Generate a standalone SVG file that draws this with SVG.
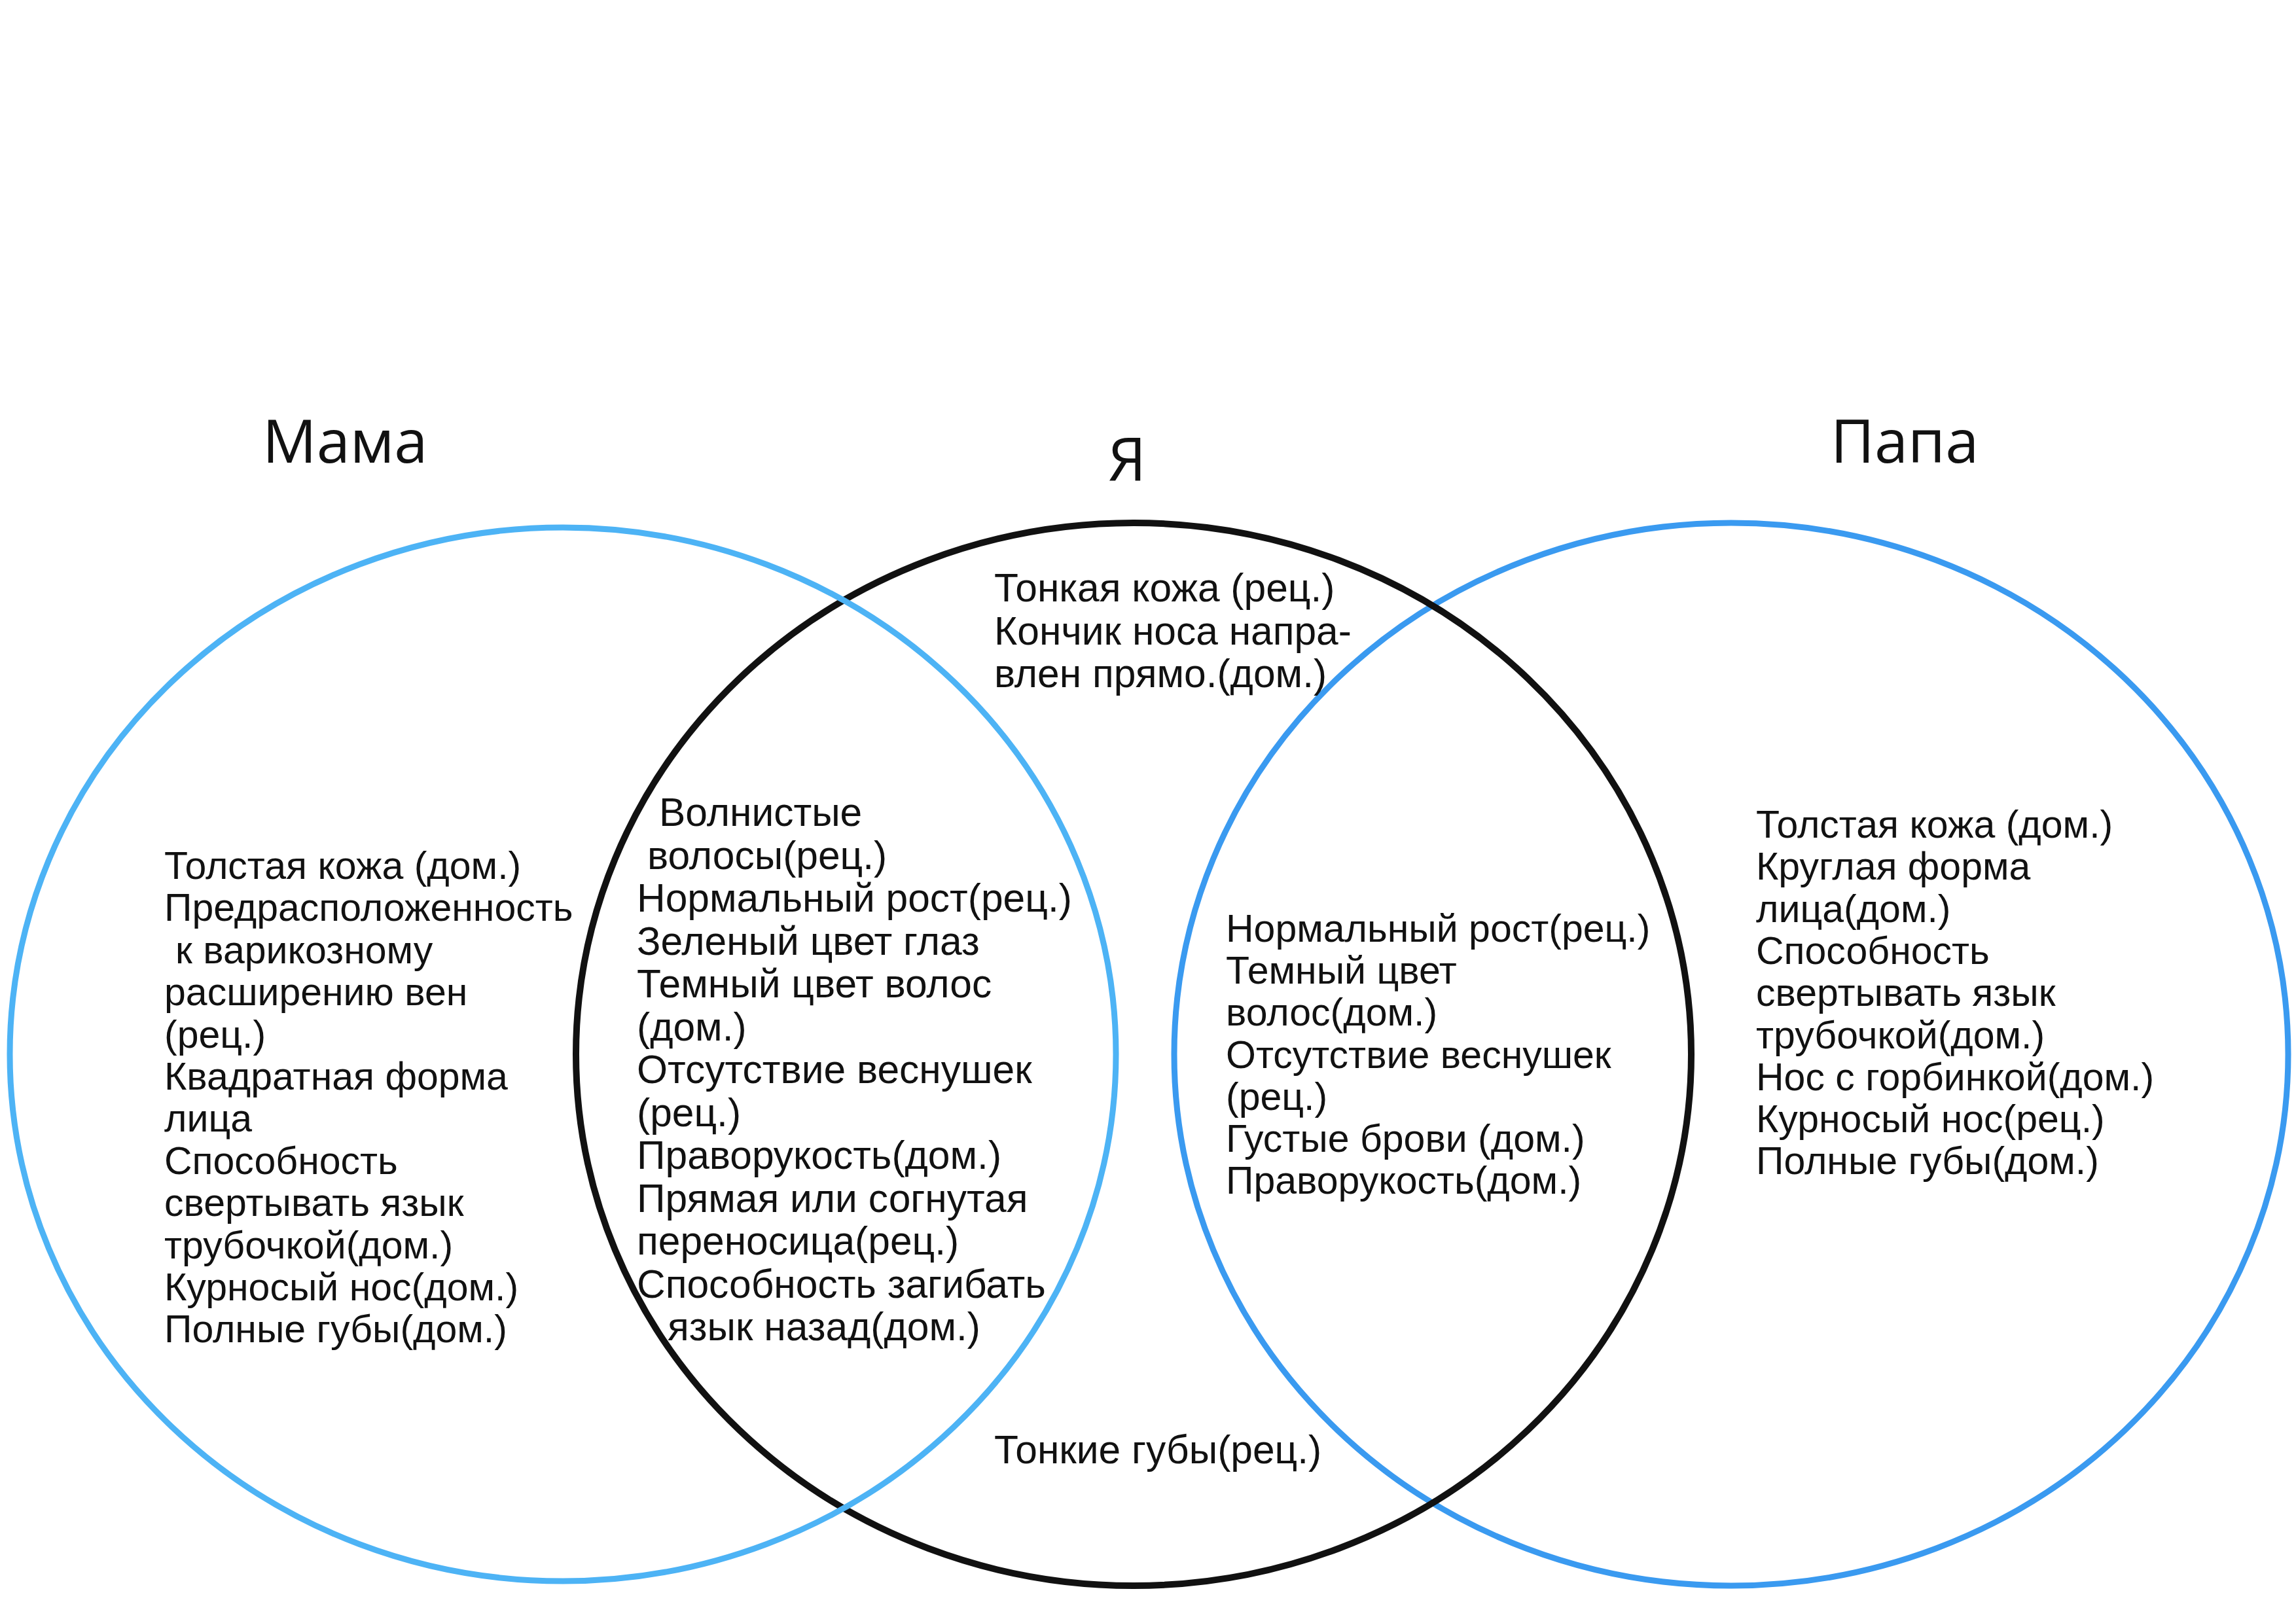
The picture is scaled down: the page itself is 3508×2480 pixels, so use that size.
<svg xmlns="http://www.w3.org/2000/svg" width="3508" height="2480" viewBox="0 0 3508 2480">
<style>
.title{font-family:"Open Sans","Noto Sans",sans-serif;font-size:92px;fill:#111;}
.t{font-family:"Liberation Sans",Arial,sans-serif;font-size:59px;fill:#111;}
.t2{font-family:"Liberation Sans",Arial,sans-serif;font-size:60.5px;fill:#111;}
.ring{fill:none;}
</style>
<rect width="3508" height="2480" fill="#fff"/>
<g id="papa">
<ellipse class="ring" cx="2645" cy="1611" rx="851" ry="812" stroke="#3a9af0" stroke-width="9"/>
<text class="title" x="2797" y="707">Папа</text>
<text class="t" x="2683" y="1280">Толстая кожа (дом.)<tspan x="2683" dy="64.3">Круглая форма</tspan><tspan x="2683" dy="64.3">лица(дом.)</tspan><tspan x="2683" dy="64.3">Способность</tspan><tspan x="2683" dy="64.3">свертывать язык</tspan><tspan x="2683" dy="64.3">трубочкой(дом.)</tspan><tspan x="2683" dy="64.3">Нос с горбинкой(дом.)</tspan><tspan x="2683" dy="64.3">Курносый нос(рец.)</tspan><tspan x="2683" dy="64.3">Полные губы(дом.)</tspan></text>
</g>
<g id="ya">
<ellipse class="ring" cx="1732" cy="1611" rx="852" ry="812" stroke="#111" stroke-width="10"/>
<text class="title" x="1693" y="734">Я</text>
<text class="t2" x="1519" y="919">Тонкая кожа (рец.)<tspan x="1519" dy="65.5">Кончик носа напра-</tspan><tspan x="1519" dy="65.5">влен прямо.(дом.)</tspan></text>
<text class="t2" x="1519" y="2236">Тонкие губы(рец.)</text>
</g>
<g id="mama">
<ellipse class="ring" cx="860" cy="1611" rx="845" ry="805" stroke="#4db3f5" stroke-width="9"/>
<text class="title" x="401" y="707">Мама</text>
<text class="t" x="251" y="1343">Толстая кожа (дом.)<tspan x="251" dy="64.4">Предрасположенность</tspan><tspan x="268" dy="64.4">к варикозному</tspan><tspan x="251" dy="64.4">расширению вен</tspan><tspan x="251" dy="64.4">(рец.)</tspan><tspan x="251" dy="64.4">Квадратная форма</tspan><tspan x="251" dy="64.4">лица</tspan><tspan x="251" dy="64.4">Способность</tspan><tspan x="251" dy="64.4">свертывать язык</tspan><tspan x="251" dy="64.4">трубочкой(дом.)</tspan><tspan x="251" dy="64.4">Курносый нос(дом.)</tspan><tspan x="251" dy="64.4">Полные губы(дом.)</tspan></text>
</g>
<g id="mama-ya">
<text class="t2" x="1007" y="1262">Волнистые<tspan x="989" dy="65.5">волосы(рец.)</tspan><tspan x="973" dy="65.5">Нормальный рост(рец.)</tspan><tspan x="973" dy="65.5">Зеленый цвет глаз</tspan><tspan x="973" dy="65.5">Темный цвет волос</tspan><tspan x="973" dy="65.5">(дом.)</tspan><tspan x="973" dy="65.5">Отсутствие веснушек</tspan><tspan x="973" dy="65.5">(рец.)</tspan><tspan x="973" dy="65.5">Праворукость(дом.)</tspan><tspan x="973" dy="65.5">Прямая или согнутая</tspan><tspan x="973" dy="65.5">переносица(рец.)</tspan><tspan x="973" dy="65.5">Способность загибать</tspan><tspan x="1020" dy="65.5">язык назад(дом.)</tspan></text>
</g>
<g id="ya-papa">
<text class="t" x="1873" y="1439">Нормальный рост(рец.)<tspan x="1873" dy="64.2">Темный цвет</tspan><tspan x="1873" dy="64.2">волос(дом.)</tspan><tspan x="1873" dy="64.2">Отсутствие веснушек</tspan><tspan x="1873" dy="64.2">(рец.)</tspan><tspan x="1873" dy="64.2">Густые брови (дом.)</tspan><tspan x="1873" dy="64.2">Праворукость(дом.)</tspan></text>
</g>
<g id="connectors"/>
</svg>
